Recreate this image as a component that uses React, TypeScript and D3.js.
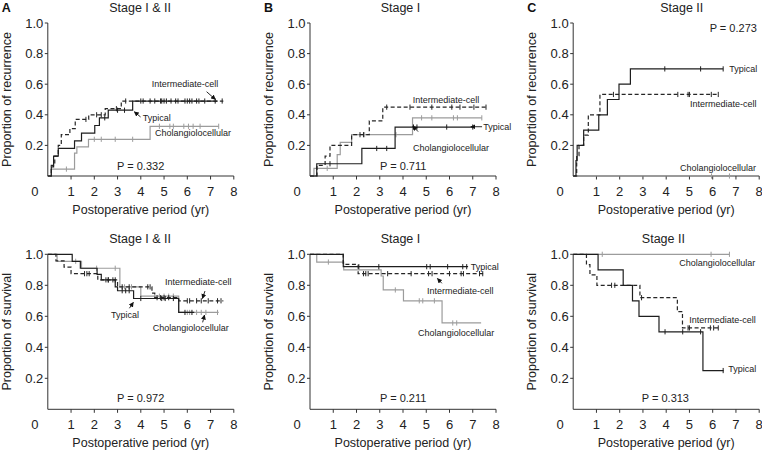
import React from 'react';
import * as d3 from 'd3';

// ---------- tick labels ----------
const X_TICKS = [1, 2, 3, 4, 5, 6, 7, 8];
const Y_TICKS = [0.2, 0.4, 0.6, 0.8, 1.0];
const PANEL_LETTERS = ['A', 'B', 'C'];
const TOP_TITLES = ['Stage I & II', 'Stage I', 'Stage II'];
const BOTTOM_TITLES = ['Stage I & II', 'Stage I', 'Stage II'];
const TOP_P = ['P = 0.332', 'P = 0.711', 'P = 0.273'];
const BOTTOM_P = ['P = 0.972', 'P = 0.211', 'P = 0.313'];
const SERIES_NAMES = ['Typical', 'Intermediate-cell', 'Cholangiolocellular'];

// ---------- A: recurrence, stage I & II ----------
const aRecTypT = [0.15, 0.25, 0.45, 1.15, 1.45, 2.02, 2.22, 2.6, 3.65];
const aRecTypV = [0.06, 0.13, 0.18, 0.23, 0.28, 0.33, 0.38, 0.43, 0.49];
const aRecTypC = [2.45, 3.0, 3.3, 4.0, 4.4, 4.85, 5.1, 5.5, 5.9, 6.2, 6.5, 7.2];
const aRecTypEnd = 7.3;
const aRecIntT = [0.15, 0.3, 0.45, 0.58, 0.95, 1.18, 1.76, 2.47, 3.16];
const aRecIntV = [0.07, 0.13, 0.2, 0.27, 0.31, 0.37, 0.4, 0.44, 0.49];
const aRecIntC = [1.64, 2.1, 2.3, 2.95, 3.35, 4.1, 4.6, 4.9, 5.0, 5.3, 5.6, 6.0, 6.1, 6.4, 6.75, 7.5];
const aRecIntEnd = 7.55;
const aRecChoT = [0.15, 1.15, 1.25, 1.75, 4.4];
const aRecChoV = [0.045, 0.15, 0.19, 0.24, 0.325];
const aRecChoC = [0.8, 2.0, 2.3, 2.9, 3.65, 4.8, 5.25, 5.4, 5.85, 6.05, 6.25, 6.55, 7.35];
const aRecChoEnd = 7.35;

// ---------- B: recurrence, stage I ----------
const bRecTypT = [0.29, 2.23, 3.66];
const bRecTypV = [0.08, 0.18, 0.32];
const bRecTypC = [0.86, 2.87, 3.3, 4.45, 4.6, 5.88, 7.0];
const bRecTypEnd = 7.0;
const bRecIntT = [0.3, 0.65, 0.86, 1.79, 2.55, 3.13];
const bRecIntV = [0.07, 0.13, 0.2, 0.27, 0.36, 0.45];
const bRecIntC = [2.15, 2.3, 3.3, 4.3, 5.24, 6.1, 6.45, 7.05, 7.57];
const bRecIntEnd = 7.6;
const bRecChoT = [0.17, 1.17, 1.3, 1.79, 4.41];
const bRecChoV = [0.05, 0.14, 0.22, 0.27, 0.38];
const bRecChoC = [0.74, 2.35, 3.7, 4.8, 5.24, 6.17, 6.34, 7.39];
const bRecChoEnd = 7.39;

// ---------- C: recurrence, stage II ----------
const cRecTypT = [0.12, 0.17, 0.45, 1.1, 1.47, 1.97, 2.46];
const cRecTypV = [0.1, 0.2, 0.3, 0.4, 0.5, 0.6, 0.7];
const cRecTypC = [3.94, 5.48, 6.45];
const cRecTypEnd = 6.45;
const cRecIntT = [0.15, 0.25, 0.45, 0.65, 1.15];
const cRecIntV = [0.133, 0.2, 0.267, 0.4, 0.533];
const cRecIntC = [1.73, 4.5, 4.94, 5.0, 5.94, 6.24];
const cRecIntEnd = 6.24;
const cRecChoT: number[] = [];
const cRecChoV: number[] = [];
const cRecChoC = [5.95, 6.72];
const cRecChoEnd = 6.72;

// ---------- A: survival, stage I & II ----------
const aSurTypT = [1.05, 1.4, 2.12, 2.3, 2.9, 3.0, 3.69, 5.63];
const aSurTypV = [0.955, 0.91, 0.87, 0.835, 0.79, 0.765, 0.715, 0.625];
const aSurTypC = [2.6, 3.2, 3.35, 3.5, 4.0, 4.9, 5.05, 5.4, 5.9, 6.2];
const aSurTypEnd = 6.3;
const aSurIntT = [0.35, 0.7, 1.0, 2.15, 3.0, 4.48, 4.6, 5.63];
const aSurIntV = [0.958, 0.917, 0.875, 0.835, 0.79, 0.75, 0.72, 0.7];
const aSurIntC = [1.58, 1.68, 1.78, 2.5, 2.6, 2.8, 2.9, 3.2, 3.5, 4.3, 4.4, 4.7, 4.85, 5.0, 5.2, 6.0, 6.1, 6.4, 6.6, 6.9, 7.3, 7.45];
const aSurIntEnd = 7.55;
const aSurChoT = [0.4, 1.45, 3.1, 4.0, 5.63];
const aSurChoV = [0.955, 0.91, 0.79, 0.73, 0.625];
const aSurChoC = [1.2, 2.1, 2.9, 3.3, 3.6, 4.6, 4.8, 5.0, 5.2, 5.4, 6.0, 6.1, 6.4, 6.6, 6.8, 7.3];
const aSurChoEnd = 7.35;

// ---------- B: survival, stage I ----------
const bSurTypT = [1.43];
const bSurTypV = [0.92];
const bSurTypC = [2.1, 2.96, 5.02, 5.17, 5.92, 6.57, 6.74];
const bSurTypEnd = 6.8;
const bSurIntT = [1.43, 2.07];
const bSurIntV = [0.935, 0.875];
const bSurIntC = [2.3, 2.4, 2.5, 3.34, 4.35, 5.1, 5.25, 6.0, 6.5, 6.6, 7.29, 7.43];
const bSurIntEnd = 7.5;
const bSurChoT = [0.29, 1.45, 3.06, 3.15, 4.02, 5.68];
const bSurChoV = [0.95, 0.9, 0.86, 0.77, 0.7, 0.557];
const bSurChoC = [0.79, 3.67, 4.7, 4.85, 5.35, 6.14, 6.31];
const bSurChoEnd = 7.36;

// ---------- C: survival, stage II ----------
const cSurTypT = [1.07, 2.15, 2.55, 2.83, 3.69, 5.58];
const cSurTypV = [0.9, 0.8, 0.7, 0.6, 0.5, 0.25];
const cSurTypC = [3.95, 4.71, 5.48, 6.45];
const cSurTypEnd = 6.47;
const cSurIntT = [0.57, 0.72, 1.02, 2.87, 4.48, 4.7];
const cSurIntV = [0.933, 0.867, 0.8, 0.72, 0.63, 0.525];
const cSurIntC = [1.65, 1.79, 2.94, 4.94, 5.0, 5.9, 6.04, 6.24];
const cSurIntEnd = 6.24;
const cSurChoT: number[] = [];
const cSurChoV: number[] = [];
const cSurChoC = [1.25, 5.93, 6.72];
const cSurChoEnd = 6.72;

// ---------- layout ----------
const FONT = '"Liberation Sans", Arial, Helvetica, sans-serif';
const COLS = [47.8, 310, 573.2];
const PW = 186;
const ROWS = [
  { top: 23, bottom: 176 },
  { top: 254.3, bottom: 409.3 },
];
const STYLE: Record<string, { stroke: string; dash?: string; order: number }> = {
  Typical: { stroke: '#1e1e1e', order: 3 },
  'Intermediate-cell': { stroke: '#262626', dash: '4,2.5', order: 2 },
  Cholangiolocellular: { stroke: '#9c9c9c', order: 1 },
};

type S = { name: string; t: number[]; v: number[]; c: number[]; end: number };
type Ann = { text: string; x: number; y: number; anchor?: string; size?: number; arrow?: number[] };

const mk = (name: string, t: number[], v: number[], c: number[], end: number): S => ({ name, t, v, c, end });

const panels = [
  {
    row: 0, col: 0, base: 0, yTitle: 'Proportion of recurrence', title: TOP_TITLES[0], titleX: 3.97,
    series: [
      mk(SERIES_NAMES[2], aRecChoT, aRecChoV, aRecChoC, aRecChoEnd),
      mk(SERIES_NAMES[1], aRecIntT, aRecIntV, aRecIntC, aRecIntEnd),
      mk(SERIES_NAMES[0], aRecTypT, aRecTypV, aRecTypC, aRecTypEnd),
    ],
    anns: [
      { text: SERIES_NAMES[1], x: 4.47, y: 0.584, arrow: [6.83, 0.551, 7.21, 0.5] },
      { text: SERIES_NAMES[0], x: 4.08, y: 0.361, arrow: [3.99, 0.386, 3.72, 0.42] },
      { text: SERIES_NAMES[2], x: 4.61, y: 0.261 },
      { text: TOP_P[0], x: 2.98, y: 0.04, size: 11 },
    ] as Ann[],
  },
  {
    row: 0, col: 1, base: 0, yTitle: 'Proportion of recurrence', title: TOP_TITLES[1], titleX: 3.89,
    series: [
      mk(SERIES_NAMES[2], bRecChoT, bRecChoV, bRecChoC, bRecChoEnd),
      mk(SERIES_NAMES[1], bRecIntT, bRecIntV, bRecIntC, bRecIntEnd),
      mk(SERIES_NAMES[0], bRecTypT, bRecTypV, bRecTypC, bRecTypEnd),
    ],
    anns: [
      { text: SERIES_NAMES[1], x: 4.42, y: 0.477 },
      { text: SERIES_NAMES[0], x: 7.45, y: 0.3, arrow: [7.4, 0.322, 6.92, 0.322] },
      { text: SERIES_NAMES[2], x: 4.43, y: 0.163, arrow: [4.65, 0.29, 4.42, 0.327] },
      { text: TOP_P[1], x: 3.01, y: 0.04, size: 11 },
    ] as Ann[],
  },
  {
    row: 0, col: 2, base: 0, yTitle: 'Proportion of recurrence', title: TOP_TITLES[2], titleX: 4.67,
    series: [
      mk(SERIES_NAMES[2], cRecChoT, cRecChoV, cRecChoC, cRecChoEnd),
      mk(SERIES_NAMES[1], cRecIntT, cRecIntV, cRecIntC, cRecIntEnd),
      mk(SERIES_NAMES[0], cRecTypT, cRecTypV, cRecTypC, cRecTypEnd),
    ],
    anns: [
      { text: SERIES_NAMES[0], x: 6.71, y: 0.68 },
      { text: SERIES_NAMES[1], x: 5.02, y: 0.454 },
      { text: SERIES_NAMES[2], x: 4.59, y: 0.033 },
      { text: TOP_P[2], x: 7.9, y: 0.941, size: 11, anchor: 'end' },
    ] as Ann[],
  },
  {
    row: 1, col: 0, base: 1, yTitle: 'Proportion of survival', title: BOTTOM_TITLES[0], titleX: 3.97,
    series: [
      mk(SERIES_NAMES[2], aSurChoT, aSurChoV, aSurChoC, aSurChoEnd),
      mk(SERIES_NAMES[1], aSurIntT, aSurIntV, aSurIntC, aSurIntEnd),
      mk(SERIES_NAMES[0], aSurTypT, aSurTypV, aSurTypC, aSurTypEnd),
    ],
    anns: [
      { text: SERIES_NAMES[1], x: 5.04, y: 0.802, arrow: [6.76, 0.763, 6.65, 0.715] },
      { text: SERIES_NAMES[0], x: 2.72, y: 0.589, arrow: [3.51, 0.652, 3.68, 0.69] },
      { text: SERIES_NAMES[2], x: 4.51, y: 0.508, arrow: [6.66, 0.561, 6.74, 0.608] },
      { text: BOTTOM_P[0], x: 2.98, y: 0.047, size: 11 },
    ] as Ann[],
  },
  {
    row: 1, col: 1, base: 1, yTitle: 'Proportion of survival', title: BOTTOM_TITLES[1], titleX: 3.89,
    series: [
      mk(SERIES_NAMES[2], bSurChoT, bSurChoV, bSurChoC, bSurChoEnd),
      mk(SERIES_NAMES[1], bSurIntT, bSurIntV, bSurIntC, bSurIntEnd),
      mk(SERIES_NAMES[0], bSurTypT, bSurTypV, bSurTypC, bSurTypEnd),
    ],
    anns: [
      { text: SERIES_NAMES[0], x: 6.91, y: 0.899 },
      { text: SERIES_NAMES[1], x: 5.03, y: 0.747, arrow: [5.67, 0.813, 5.48, 0.844] },
      { text: SERIES_NAMES[2], x: 4.65, y: 0.47 },
      { text: BOTTOM_P[1], x: 3.01, y: 0.047, size: 11 },
    ] as Ann[],
  },
  {
    row: 1, col: 2, base: 1, yTitle: 'Proportion of survival', title: BOTTOM_TITLES[2], titleX: 3.88,
    series: [
      mk(SERIES_NAMES[2], cSurChoT, cSurChoV, cSurChoC, cSurChoEnd),
      mk(SERIES_NAMES[1], cSurIntT, cSurIntV, cSurIntC, cSurIntEnd),
      mk(SERIES_NAMES[0], cSurTypT, cSurTypV, cSurTypC, cSurTypEnd),
    ],
    anns: [
      { text: SERIES_NAMES[2], x: 4.56, y: 0.925 },
      { text: SERIES_NAMES[1], x: 4.99, y: 0.557 },
      { text: SERIES_NAMES[0], x: 6.67, y: 0.24 },
      { text: BOTTOM_P[2], x: 2.95, y: 0.047, size: 11 },
    ] as Ann[],
  },
];

function valueAt(s: S, base: number, time: number) {
  let v = base;
  for (let i = 0; i < s.t.length; i++) if (s.t[i] <= time + 1e-9) v = s.v[i];
  return v;
}

function Panel({ p }: { p: (typeof panels)[number] }) {
  const x0 = COLS[p.col];
  const r = ROWS[p.row];
  const x = d3.scaleLinear().domain([0, 8]).range([x0, x0 + PW]);
  const y = d3.scaleLinear().domain([0, 1]).range([r.bottom, r.top]);
  const line = d3
    .line<[number, number]>()
    .x((d) => x(d[0]))
    .y((d) => y(d[1]))
    .curve(d3.curveStepAfter);
  const midX = (x(0) + x(8)) / 2;
  const midY = (y(0) + y(1)) / 2;
  return (
    <g fontFamily={FONT}>
      {/* panel letter and title */}
      {p.row === 0 && (
        <text x={x0 - 46} y={12} fontSize={12.5} fontWeight="bold" fill="#111">
          {PANEL_LETTERS[p.col]}
        </text>
      )}
      <text x={x(p.titleX)} y={p.row === 0 ? 12 : 243} fontSize={12.5} textAnchor="middle" fill="#222">
        {p.title}
      </text>
      {/* axes */}
      <line x1={x(0)} x2={x(0)} y1={y(0)} y2={y(1)} stroke="#333" strokeWidth={1} />
      <line x1={x(0)} x2={x(8)} y1={y(0)} y2={y(0)} stroke="#333" strokeWidth={1} />
      {Y_TICKS.map((t) => (
        <g key={'y' + t}>
          <line x1={x(0) - 3} x2={x(0)} y1={y(t)} y2={y(t)} stroke="#333" />
          <text x={x(0) - 4.5} y={y(t)} dy="0.35em" fontSize={13} textAnchor="end" fill="#222">
            {d3.format('.1f')(t)}
          </text>
        </g>
      ))}
      {X_TICKS.map((t) => (
        <g key={'x' + t}>
          <line x1={x(t)} x2={x(t)} y1={y(0)} y2={y(0) + 3.5} stroke="#333" />
          <text x={x(t)} y={y(0) + 20} fontSize={13} textAnchor="middle" fill="#222">
            {t}
          </text>
        </g>
      ))}
      <text x={x(0) - 13} y={y(0) + 20} fontSize={13} textAnchor="middle" fill="#222">
        0
      </text>
      <text x={midX} y={y(0) + 38} fontSize={12.5} textAnchor="middle" fill="#222">
        Postoperative period (yr)
      </text>
      <text
        transform={`translate(${x(0) - 37},${midY}) rotate(-90)`}
        fontSize={12.5}
        textAnchor="middle"
        fill="#222"
      >
        {p.yTitle}
      </text>
      {/* curves */}
      {[...p.series]
        .sort((a, b) => STYLE[a.name].order - STYLE[b.name].order)
        .map((s) => {
          const st = STYLE[s.name];
          const pts: [number, number][] = [[0, p.base]];
          s.t.forEach((t, i) => pts.push([t, s.v[i]]));
          pts.push([s.end, s.v.length ? s.v[s.v.length - 1] : p.base]);
          return (
            <g key={s.name}>
              <path d={line(pts) || ''} fill="none" stroke={st.stroke} strokeWidth={1.2} strokeDasharray={st.dash} />
              {s.c.map((c, i) => {
                const v = valueAt(s, p.base, c);
                return (
                  <line
                    key={i}
                    x1={x(c)}
                    x2={x(c)}
                    y1={y(v) - 2.6}
                    y2={y(v) + 2.6}
                    stroke={st.stroke}
                    strokeWidth={1}
                  />
                );
              })}
            </g>
          );
        })}
      {/* annotations */}
      {p.anns.map((a, i) => (
        <g key={'a' + i}>
          <text
            x={x(a.x)}
            y={y(a.y)}
            fontSize={a.size || 9}
            textAnchor={a.anchor || 'start'}
            fill="#222"
          >
            {a.text}
          </text>
          {a.arrow && (
            <line
              x1={x(a.arrow[0])}
              y1={y(a.arrow[1])}
              x2={x(a.arrow[2])}
              y2={y(a.arrow[3])}
              stroke="#111"
              strokeWidth={0.9}
              markerEnd="url(#arrowHead)"
            />
          )}
        </g>
      ))}
    </g>
  );
}

export default function App() {
  return (
    <svg
      width={762}
      height={450}
      viewBox="0 0 762 450"
      style={{ position: 'absolute', left: 0, top: 0, background: '#fff' }}
    >
      <defs>
        <marker
          id="arrowHead"
          viewBox="0 0 10 10"
          refX={9}
          refY={5}
          markerWidth={5}
          markerHeight={5}
          markerUnits="userSpaceOnUse"
          orient="auto"
        >
          <path d="M0,0 L10,5 L0,10 z" fill="#111" />
        </marker>
      </defs>
      <rect width={762} height={450} fill="#fff" />
      {panels.map((p, i) => (
        <Panel key={i} p={p} />
      ))}
    </svg>
  );
}
